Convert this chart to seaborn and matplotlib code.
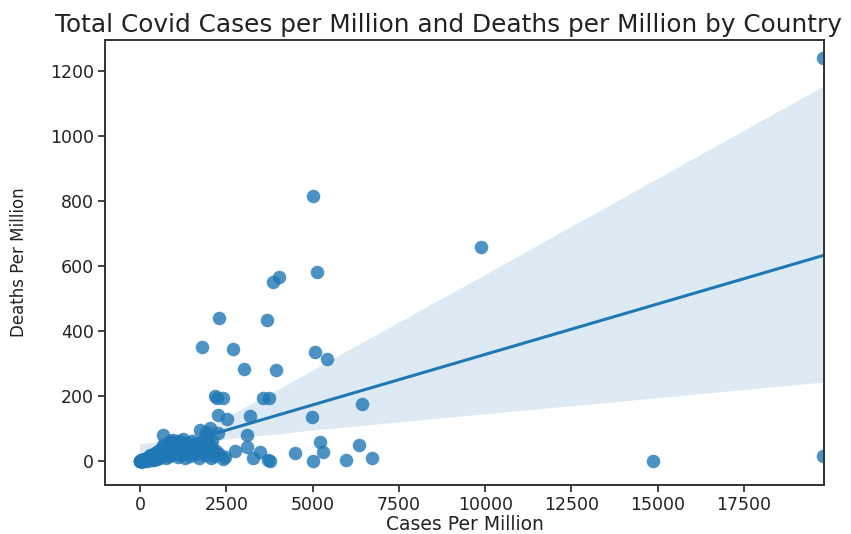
import numpy as np
import pandas as pd
import matplotlib
matplotlib.use("Agg")
import matplotlib.pyplot as plt
import seaborn as sns

# Outlying countries (cases per million, deaths per million)
outlier_cases = [19800, 19800, 14850, 9880, 5010, 5120, 4030, 3850, 2290, 3680,
                 1800, 2700, 3010, 3940, 5070, 5420, 2170, 2240, 2400, 3560,
                 3740, 6430, 2260, 2520, 3190, 4980, 3100, 5220, 6340, 2750,
                 3100, 3480, 3270, 3770, 3700, 4490, 5300, 5010, 5970, 6720,
                 2460, 1740, 2030, 1900, 666, 1950, 2100, 2050, 2200, 2300,
                 2150, 2400, 1850, 2250]
outlier_deaths = [1240, 15, 0, 658, 815, 580, 566, 551, 440, 434,
                  351, 345, 283, 280, 335, 314, 200, 193, 193, 193,
                  193, 175, 141, 128, 138, 135, 80, 58, 49, 31,
                  43, 28, 9, 0, 3, 25, 28, 0, 3, 9,
                  12, 95, 101, 90, 80, 75, 60, 45, 30, 20,
                  15, 5, 55, 85]

# Dense cluster of countries near the origin
cluster_cases = [2, 5, 8, 10, 15, 18, 22, 25, 30, 35, 40, 45, 50, 55, 60, 70, 75, 80,
                 90, 100, 110, 120, 130, 140, 150, 165, 180, 195, 210, 225, 240, 260,
                 280, 300, 320, 340, 360, 380, 400, 420, 440, 460, 480, 500, 520, 540,
                 560, 580, 600, 620, 640, 660, 680, 700, 720, 740, 760, 780, 800, 820,
                 840, 860, 880, 900, 920, 950, 980, 1000, 1030, 1060, 1090, 1120, 1150,
                 1180, 1210, 1240, 1270, 1300, 1330, 1370, 1410, 1450, 1500, 1550, 1600,
                 1650, 1700, 1750, 1820, 1880, 1960, 2050, 2120,
                 290, 430, 590, 730, 890, 1080, 1190, 1320, 1460, 1580]
cluster_deaths = [0, 0, 0, 0, 0, 1, 0, 0, 1, 0, 1, 0, 2, 1, 0, 1, 2, 0,
                  3, 1, 2, 4, 0, 3, 5, 2, 6, 1, 4, 8, 3, 10,
                  5, 12, 2, 15, 8, 18, 4, 20, 10, 25, 6, 14, 30, 9,
                  22, 35, 12, 28, 40, 16, 50, 20, 33, 45, 8, 26, 55, 38,
                  14, 60, 30, 48, 18, 65, 36, 24, 58, 42, 12, 62, 30,
                  50, 20, 68, 38, 8, 55, 26, 45, 15, 60, 35, 22,
                  50, 10, 40, 28, 18, 48, 8, 30,
                  19, 24, 31, 27, 35, 22, 40, 33, 28, 44]

cases = outlier_cases + cluster_cases
deaths = outlier_deaths + cluster_deaths
df = pd.DataFrame({"Cases Per Million": cases, "Deaths Per Million": deaths})

plt.rcParams["font.family"] = ["DejaVu Sans"]

fig = plt.figure(figsize=(8.51, 5.34), dpi=100)
ax = fig.add_axes([105 / 851, 1 - 485 / 534, (824 - 105) / 851, (485 - 40) / 534])

# slightly wide ellipse marker, as in the reference
t = np.linspace(0, 2 * np.pi, 40)
ell = np.column_stack([1.3 * np.cos(t), np.sin(t)])

sns.regplot(data=df, x="Cases Per Million", y="Deaths Per Million", ax=ax,
            color="#1f77b4", seed=3,
            scatter_kws={"s": 95, "marker": ell, "linewidths": 0, "alpha": 0.8},
            line_kws={"linewidth": 2.2})

ax.set_xlim(-1014, 19815)
ax.set_ylim(-74, 1295)
ax.set_xticks([0, 2500, 5000, 7500, 10000, 12500, 15000, 17500])
ax.set_yticks([0, 200, 400, 600, 800, 1000, 1200])
ax.tick_params(labelsize=12.5, length=5, width=1.2, colors="#222222", pad=3)
for s in ax.spines.values():
    s.set_linewidth(1.4)
    s.set_color("#333333")

ax.set_xlabel("Cases Per Million", fontsize=13.5, color="#222222", labelpad=1)
ax.set_ylabel("Deaths Per Million", fontsize=12, color="#222222", labelpad=16)
ax.set_title("Total Covid Cases per Million and Deaths per Million by Country",
             fontsize=17.8, color="#222222", x=0.478, pad=6)

fig.savefig("out.png", dpi=100)
